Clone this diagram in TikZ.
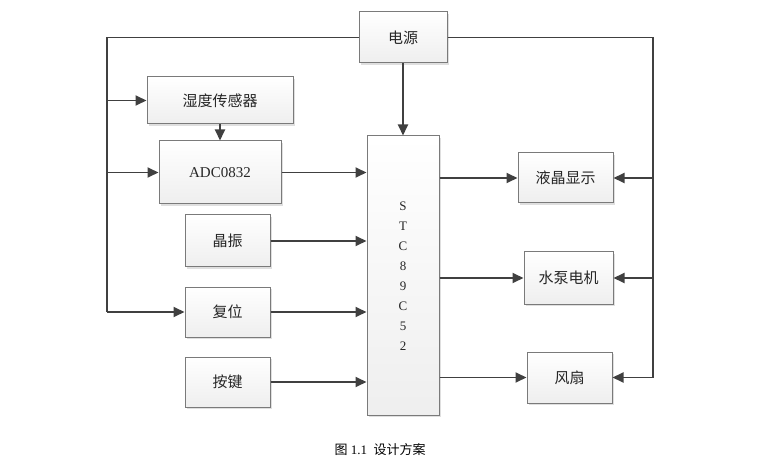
\documentclass[tikz,border=0pt]{standalone}
\usepackage{fontspec}
\setmainfont{Liberation Serif}
\newfontfamily\cjk{Noto Sans CJK SC}
\usetikzlibrary{arrows.meta,shadows}
\definecolor{ln}{HTML}{404040}
\definecolor{bd}{HTML}{7a7a7a}
\tikzset{
  blk/.style={draw=bd, line width=1pt, top color=white, bottom color=gray!13,
    drop shadow={shadow xshift=2pt, shadow yshift=-2pt, fill=gray!50, opacity=0.5},
    inner sep=0pt, font=\cjk\fontsize{15}{15}\selectfont, text=black!85},
  wire/.style={draw=ln, line width=1.9pt},
  arr/.style={wire, -{Triangle[length=11pt,width=10pt]}},
}
\newcommand{\bx}[6]{% name, x1, y1, x2, y2, text
  \node[blk, minimum width=#4pt-#2pt, minimum height=#5pt-#3pt] (#1) at ({(#2+#4)/2},{(#3+#5)/2}) {#6};}
\begin{document}
\begin{tikzpicture}[x=1pt,y=-1pt]
\useasboundingbox (0,0) rectangle (772,476);
\bx{power}{359}{12}{447}{63}{电源}
\bx{shidu}{147}{77}{293}{124}{湿度传感器}
\bx{adc}{159}{141}{281}{204}{\rmfamily ADC0832}
\bx{jz}{185}{215}{270}{267}{晶振}
\bx{fw}{185}{287}{270}{337}{复位}
\bx{aj}{185}{357}{270}{407}{按键}
\bx{stc}{367}{136}{439}{415}{}
\bx{lcd}{518}{153}{613}{203}{液晶显示}
\bx{pump}{524}{252}{613}{304}{水泵电机}
\bx{fan}{527}{352}{612}{403}{风扇}
\node[align=center, font=\fontsize{13}{20}\selectfont, text=black!85] (stctxt) at (403,276) {S\\T\\C\\8\\9\\C\\5\\2};
\node[font=\fontsize{13}{13}\selectfont] (cap) at (380,450) {{\cjk 图} 1.1\ \ {\cjk 设计方案}};
% left bus
\coordinate (lt) at (107,37.5);
\coordinate (lb) at (107,312);
\draw[wire] (power.west) -- (lt) -- (lb);
\draw[arr] (lb) -- (fw.west);
\draw[arr] (107,100.5) coordinate (l1) -- (shidu.west);
\draw[arr] (107,172.5) coordinate (l2) -- (adc.west);
% right bus
\coordinate (rt) at (653,37.5);
\coordinate (rb) at (653,377.5);
\draw[wire] (power.east) -- (rt) -- (rb);
\draw[arr] (rb) -- (fan.east);
\draw[arr] (653,178) coordinate (r1) -- (lcd.east);
\draw[arr] (653,278) coordinate (r2) -- (pump.east);
% power to mcu
\draw[arr] (power.south) -- (stc.north);
\draw[arr] (shidu.south) -- (adc.north);
% inputs
\draw[arr] (adc.east) -- (stc.west |- adc.east);
\draw[arr] (jz.east) -- (stc.west |- jz.east);
\draw[arr] (fw.east) -- (stc.west |- fw.east);
\draw[arr] (aj.east) -- (stc.west |- aj.east);
% outputs
\draw[arr] (stc.east |- lcd.west) -- (lcd.west);
\draw[arr] (stc.east |- pump.west) -- (pump.west);
\draw[arr] (stc.east |- fan.west) -- (fan.west);
\end{tikzpicture}
\end{document}
